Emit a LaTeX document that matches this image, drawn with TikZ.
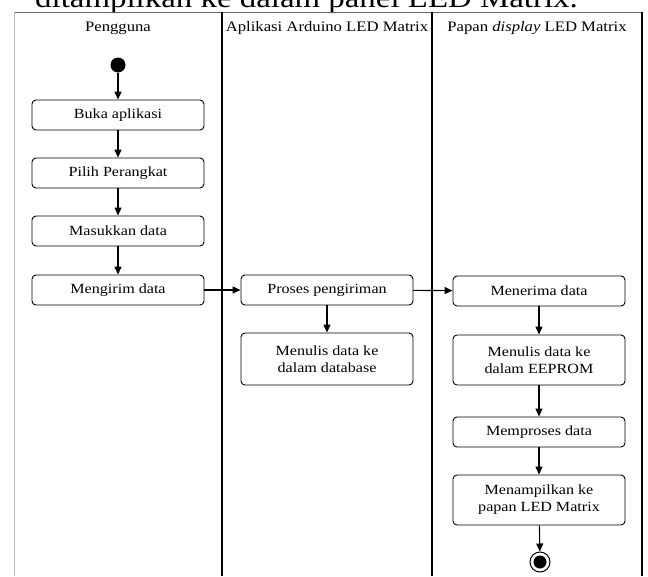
\documentclass[tikz,border=0pt]{standalone}
\usepackage{fontspec}
\setmainfont{Liberation Serif}[FakeStretch=1.15]
\usetikzlibrary{arrows.meta}
\tikzset{
  act/.style={draw, rounded corners=4pt, line width=0.9pt, minimum width=172pt,
    align=center, inner sep=2pt, font=\fontsize{14}{17}\selectfont},
  flow/.style={-{Triangle[length=8pt,width=7pt]}, line width=1.1pt},
  lane/.style={line width=1.6pt},
  lanehead/.style={font=\fontsize{14.5}{16}\selectfont, inner sep=0pt}
}
\begin{document}
\begin{tikzpicture}[x=1pt,y=-1pt]
  \clip (0,0) rectangle (648,576);
  \useasboundingbox (0,0) rectangle (648,576);

  % caption of the page, cut at the top
  \node[anchor=base west, inner sep=0pt, font=\fontsize{28.6}{32}\selectfont] (caption) at (35,7)
    {ditampilkan ke dalam panel LED Matrix.};

  % swimlanes
  \draw[black!60, line width=0.8pt] (14,12) -- (643,12);
  \draw[black!25, line width=1pt] (14,12) -- (14,576);
  \draw[lane] (222,12) -- (222,576);
  \draw[lane] (432,12) -- (432,576);
  \draw[lane] (642,12) -- (642,576);

  \node[lanehead] (hpengguna) at (118,28) {Pengguna};
  \node[lanehead] (haplikasi) at (327,28) {Aplikasi Arduino LED Matrix};
  \node[lanehead] (hpapan) at (537,28) {Papan \textit{display} LED Matrix};

  % start and end
  \node[circle, fill, inner sep=0pt, minimum size=15pt] (start) at (118,65) {};
  \node[circle, draw, line width=1pt, inner sep=0pt, minimum size=20pt] (end) at (540,562) {};
  \node[circle, fill, inner sep=0pt, minimum size=13pt] (endin) at (end) {};

  % activities
  \def \Acts {
    buka/118/115/30/Buka aplikasi,
    pilih/118/173/30/Pilih Perangkat,
    masukkan/118/231/30/Masukkan data,
    kirim/118/290/30/Mengirim data,
    proses/327/290/30/Proses pengiriman,
    tulisdb/327/359/52/Menulis data ke\\dalam database,
    terima/539/291/30/Menerima data,
    tuliseeprom/539/360/50/Menulis data ke\\dalam EEPROM,
    olah/539/432/30/Memproses data,
    tampil/539/500/50/Menampilkan ke\\papan LED Matrix}
  \foreach \id / \x / \y / \h / \txt in \Acts {
    \node[act, minimum height=\h pt] (\id) at (\x, \y) {\txt};
  }

  % flows
  \foreach \a / \b in {start/buka, buka/pilih, pilih/masukkan, masukkan/kirim,
      kirim/proses, proses/tulisdb, proses/terima, terima/tuliseeprom,
      tuliseeprom/olah, olah/tampil, tampil/end} {
    \draw[flow] (\a) -- (\b);
  }
\end{tikzpicture}
\end{document}
